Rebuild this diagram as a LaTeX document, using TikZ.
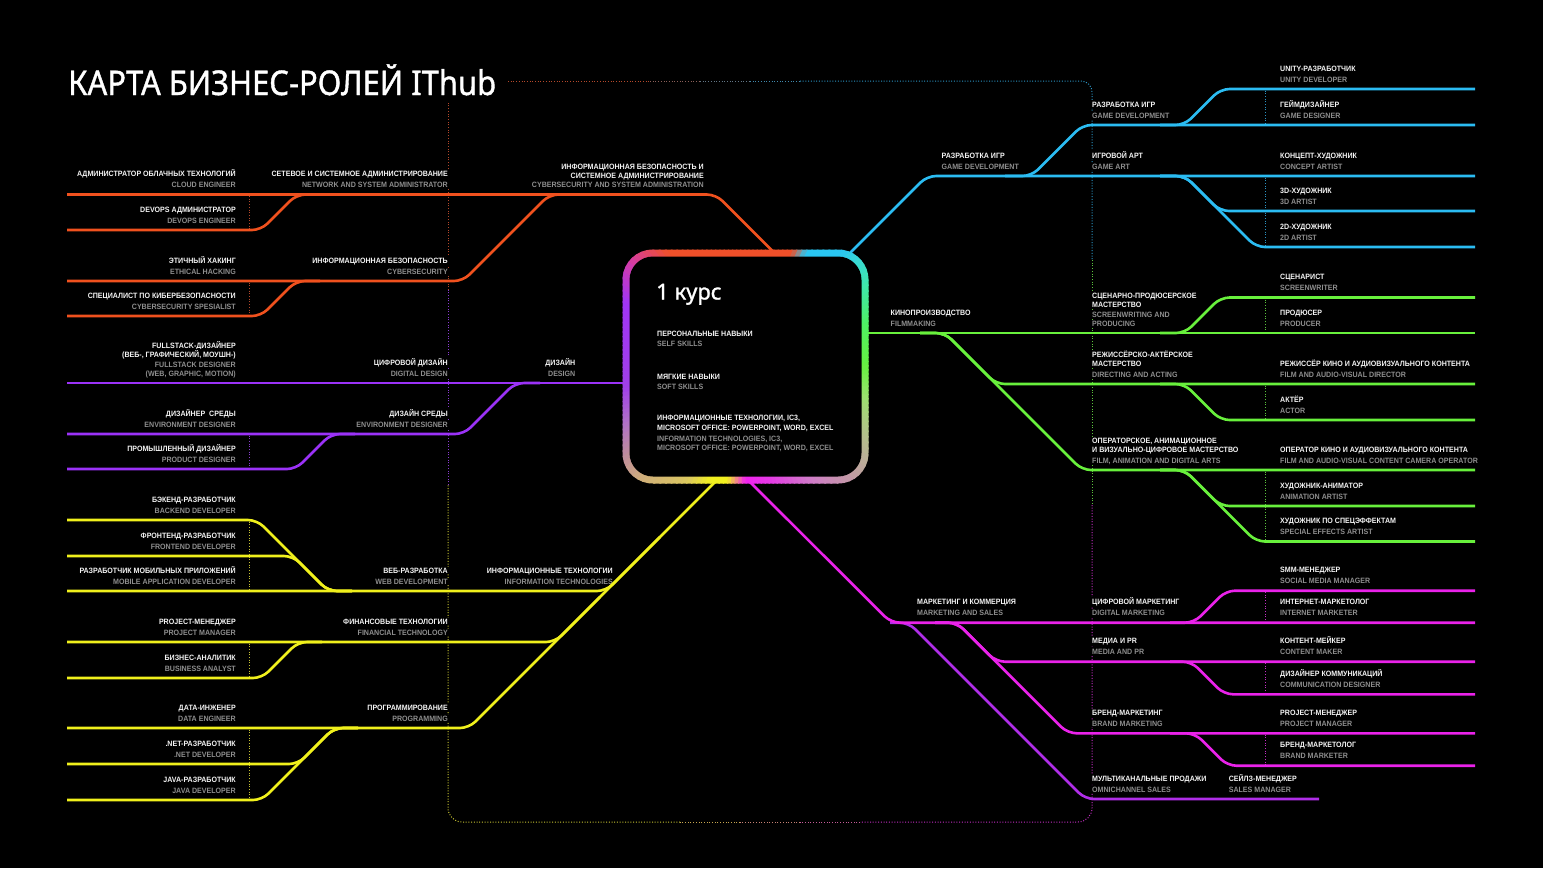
\documentclass[tikz,border=0pt]{standalone}
\usepackage{fontspec}
\setmainfont{Noto Sans}
\newfontfamily\labfont{Liberation Sans}[FakeStretch=0.92]
\newfontfamily\headfont{Noto Sans}[FakeBold=1.2]
\definecolor{cOr}{HTML}{F0511E}
\definecolor{cPu}{HTML}{9B32F7}
\definecolor{cYe}{HTML}{F0F01C}
\definecolor{cBl}{HTML}{2BBCF2}
\definecolor{cGr}{HTML}{68F03C}
\definecolor{cMg}{HTML}{EA22EA}
\definecolor{cVi}{HTML}{B02EE8}
\definecolor{cGrey}{HTML}{8E8E8E}
\definecolor{cWh}{HTML}{F4F4F4}
\definecolor{cDOr}{HTML}{B5482A}
\definecolor{cDBl}{HTML}{2B94C4}
\definecolor{cDGr}{HTML}{5CC43C}
\definecolor{cDMg}{HTML}{C42EC4}
\definecolor{cDYe}{HTML}{C8C432}
\definecolor{cDPu}{HTML}{8A3CD2}
\definecolor{w0}{HTML}{66F040}
\definecolor{w1}{HTML}{4EF064}
\definecolor{w2}{HTML}{3EE6B0}
\definecolor{w3}{HTML}{38D8D8}
\definecolor{w4}{HTML}{2AC6F2}
\definecolor{w5}{HTML}{2AC6F2}
\definecolor{w6}{HTML}{F0502A}
\definecolor{w7}{HTML}{F0502A}
\definecolor{w8}{HTML}{D43CA8}
\definecolor{w9}{HTML}{A035F5}
\definecolor{w10}{HTML}{A040E8}
\definecolor{w11}{HTML}{B070C8}
\definecolor{w12}{HTML}{C09098}
\definecolor{w13}{HTML}{D0B078}
\definecolor{w14}{HTML}{DCC860}
\definecolor{w15}{HTML}{F2F020}
\definecolor{w16}{HTML}{F2F020}
\definecolor{w17}{HTML}{F222F0}
\definecolor{w18}{HTML}{E43CE4}
\definecolor{w19}{HTML}{D07CC8}
\definecolor{w20}{HTML}{C0A0A0}
\definecolor{w21}{HTML}{B4C08C}
\definecolor{w22}{HTML}{9CE070}
\tikzset{
  every node/.style={inner xsep=2pt, inner ysep=1pt},
  lbt/.style={font=\labfont\bfseries\fontsize{7.7}{9}\selectfont, text=cWh},
  lgt/.style={font=\labfont\bfseries\fontsize{7.7}{9}\selectfont, text=cGrey},
  lb/.style={lbt, fill=black},
  lg/.style={lgt, fill=black},
  br/.style={line width=2.6pt, rounded corners=9pt},
  dotl/.style={line width=1pt, dash pattern=on 1pt off 1.7pt},
}
\newcounter{labno}
\newcommand\mylabR[4]{\stepcounter{labno}%
 \node[lb,anchor=base east] (lb\arabic{labno}) at ({#1+2},{#2-18}) {#3};%
 \node[lg,anchor=base east] (lg\arabic{labno}) at ({#1+2},{#2-7}) {#4};}
\newcommand\mylabL[4]{\stepcounter{labno}%
 \node[lb,anchor=base west] (lb\arabic{labno}) at ({#1-2},{#2-18}) {#3};%
 \node[lg,anchor=base west] (lg\arabic{labno}) at ({#1-2},{#2-7}) {#4};}
\begin{document}
\begin{tikzpicture}[x=1pt,y=-1pt]
\useasboundingbox (0,0) rectangle (1543,868);
\fill[black] (0,0) rectangle (1543,868);

% title
\node[anchor=base west, text=white, font=\headfont\fontsize{34}{34}\selectfont] (title) at (66,95) {\scalebox{0.91}[1]{КАРТА БИЗНЕС-РОЛЕЙ IThub}};

% dotted frame
\draw[dotl,cDOr] (508,81) -- (650,81);
\draw[dotl,cDOr!70!cDBl] (650,81) -- (700,81);
\draw[dotl,cDOr!40!cDBl] (700,81) -- (750,81);
\draw[dotl,cDOr!15!cDBl] (750,81) -- (800,81);
\draw[dotl,cDBl,rounded corners=11pt] (800,81) -- (1092,81) -- (1092,260);
\draw[dotl,cDGr] (1092,260) -- (1092,505);
\draw[dotl,cDMg,rounded corners=14pt] (1092,505) -- (1092,822) -- (860,822);
\draw[dotl,cDMg!70!cDYe] (860,822) -- (800,822);
\draw[dotl,cDMg!45!cDYe] (800,822) -- (740,822);
\draw[dotl,cDMg!20!cDYe] (740,822) -- (680,822);
\draw[dotl,cDYe,rounded corners=14pt] (680,822) -- (448,822) -- (448,485);
\draw[dotl,cDPu] (448,485) -- (448,290);
\draw[dotl,cDOr] (448,290) -- (448,103);

% small dotted separators
\draw[dotl,cDOr] (249.5,196) -- (249.5,228.5);
\draw[dotl,cDOr] (249.5,282.5) -- (249.5,314.5);
\draw[dotl,cDPu] (249.5,435.5) -- (249.5,467.5);
\draw[dotl,cDYe] (249.5,521.5) -- (249.5,589.5);
\draw[dotl,cDYe] (249.5,643.5) -- (249.5,676.5);
\draw[dotl,cDYe] (249.5,729.5) -- (249.5,798.5);
\draw[dotl,cDBl] (1265.5,90.5) -- (1265.5,123.5);
\draw[dotl,cDBl] (1265.5,177.5) -- (1265.5,245.5);
\draw[dotl,cDGr] (1265.5,299.5) -- (1265.5,331.5);
\draw[dotl,cDGr] (1265.5,385.5) -- (1265.5,418.5);
\draw[dotl,cDGr] (1265.5,471.5) -- (1265.5,540);
\draw[dotl,cDMg] (1265.5,592) -- (1265.5,621);
\draw[dotl,cDMg] (1265.5,663) -- (1265.5,693);
\draw[dotl,cDMg] (1265.5,734.5) -- (1265.5,764.5);

% ---------- labels left
\mylabR{236}{194.5}{АДМИНИСТРАТОР ОБЛАЧНЫХ ТЕХНОЛОГИЙ}{CLOUD ENGINEER}
\mylabR{236}{230}{DEVOPS АДМИНИСТРАТОР}{DEVOPS ENGINEER}
\mylabR{236}{281}{ЭТИЧНЫЙ ХАКИНГ}{ETHICAL HACKING}
\mylabR{236}{316}{СПЕЦИАЛИСТ ПО КИБЕРБЕЗОПАСНОСТИ}{CYBERSECURITY SPESIALIST}
\mylabR{448}{194.5}{СЕТЕВОЕ И СИСТЕМНОЕ АДМИНИСТРИРОВАНИЕ}{NETWORK AND SYSTEM ADMINISTRATOR}
\mylabR{448}{281}{ИНФОРМАЦИОННАЯ БЕЗОПАСНОСТЬ}{CYBERSECURITY}
\node[lb,anchor=base east] (om1) at (706,169) {ИНФОРМАЦИОННАЯ БЕЗОПАСНОСТЬ И};
\node[lb,anchor=base east] (om2) at (706,178.5) {СИСТЕМНОЕ АДМИНИСТРИРОВАНИЕ};
\node[lg,anchor=base east] (om3) at (706,187.5) {CYBERSECURITY AND SYSTEM ADMINISTRATION};
\node[lb,anchor=base east] (fs1) at (238,348) {FULLSTACK-ДИЗАЙНЕР};
\node[lb,anchor=base east] (fs2) at (238,357) {(ВЕБ-, ГРАФИЧЕСКИЙ, МОУШН-)};
\node[lg,anchor=base east] (fs3) at (238,367) {FULLSTACK DESIGNER};
\node[lg,anchor=base east] (fs4) at (238,376) {(WEB, GRAPHIC, MOTION)};
\mylabR{448}{383}{ЦИФРОВОЙ ДИЗАЙН}{DIGITAL DESIGN}
\mylabR{575.5}{383}{ДИЗАЙН}{DESIGN}
\mylabR{236}{434}{ДИЗАЙНЕР\ \ СРЕДЫ}{ENVIRONMENT DESIGNER}
\mylabR{448}{434}{ДИЗАЙН СРЕДЫ}{ENVIRONMENT DESIGNER}
\mylabR{236}{469}{ПРОМЫШЛЕННЫЙ ДИЗАЙНЕР}{PRODUCT DESIGNER}
\mylabR{236}{520}{БЭКЕНД-РАЗРАБОТЧИК}{BACKEND DEVELOPER}
\mylabR{236}{556}{ФРОНТЕНД-РАЗРАБОТЧИК}{FRONTEND DEVELOPER}
\mylabR{236}{591}{РАЗРАБОТЧИК МОБИЛЬНЫХ ПРИЛОЖЕНИЙ}{MOBILE APPLICATION DEVELOPER}
\mylabR{448}{591}{ВЕБ-РАЗРАБОТКА}{WEB DEVELOPMENT}
\mylabR{613}{591}{ИНФОРМАЦИОННЫЕ ТЕХНОЛОГИИ}{INFORMATION TECHNOLOGIES}
\mylabR{236}{642}{PROJECT-МЕНЕДЖЕР}{PROJECT MANAGER}
\mylabR{448}{642}{ФИНАНСОВЫЕ ТЕХНОЛОГИИ}{FINANCIAL TECHNOLOGY}
\mylabR{236}{678}{БИЗНЕС-АНАЛИТИК}{BUSINESS ANALYST}
\mylabR{236}{728}{ДАТА-ИНЖЕНЕР}{DATA ENGINEER}
\mylabR{448}{728}{ПРОГРАММИРОВАНИЕ}{PROGRAMMING}
\mylabR{236}{764}{.NET-РАЗРАБОТЧИК}{.NET DEVELOPER}
\mylabR{236}{800}{JAVA-РАЗРАБОТЧИК}{JAVA DEVELOPER}

% ---------- labels right
\mylabL{941.5}{176}{РАЗРАБОТКА ИГР}{GAME DEVELOPMENT}
\mylabL{1092}{125}{РАЗРАБОТКА ИГР}{GAME DEVELOPMENT}
\mylabL{1092}{176}{ИГРОВОЙ АРТ}{GAME ART}
\mylabL{1280}{89}{UNITY-РАЗРАБОТЧИК}{UNITY DEVELOPER}
\mylabL{1280}{125}{ГЕЙМДИЗАЙНЕР}{GAME DESIGNER}
\mylabL{1280}{176}{КОНЦЕПТ-ХУДОЖНИК}{CONCEPT ARTIST}
\mylabL{1280}{211}{3D-ХУДОЖНИК}{3D ARTIST}
\mylabL{1280}{247}{2D-ХУДОЖНИК}{2D ARTIST}
\mylabL{890.5}{333}{КИНОПРОИЗВОДСТВО}{FILMMAKING}
\node[lb,anchor=base west] (sp1) at (1090,298.5) {СЦЕНАРНО-ПРОДЮСЕРСКОЕ};
\node[lb,anchor=base west] (sp2) at (1090,307.5) {МАСТЕРСТВО};
\node[lg,anchor=base west] (sp3) at (1090,317.5) {SCREENWRITING AND};
\node[lg,anchor=base west] (sp4) at (1090,326) {PRODUCING};
\node[lb,anchor=base west] (da1) at (1090,357.5) {РЕЖИССЁРСКО-АКТЁРСКОЕ};
\node[lb,anchor=base west] (da2) at (1090,366) {МАСТЕРСТВО};
\node[lg,anchor=base west] (da3) at (1090,377) {DIRECTING AND ACTING};
\node[lb,anchor=base west] (op1) at (1090,443.5) {ОПЕРАТОРСКОЕ, АНИМАЦИОННОЕ};
\node[lb,anchor=base west] (op2) at (1090,452) {И ВИЗУАЛЬНО-ЦИФРОВОЕ МАСТЕРСТВО};
\node[lg,anchor=base west] (op3) at (1090,463) {FILM, ANIMATION AND DIGITAL ARTS};
\mylabL{1280}{297.5}{СЦЕНАРИСТ}{SCREENWRITER}
\mylabL{1280}{333}{ПРОДЮСЕР}{PRODUCER}
\mylabL{1280}{384}{РЕЖИССЁР КИНО И АУДИОВИЗУАЛЬНОГО КОНТЕНТА}{FILM AND AUDIO-VISUAL DIRECTOR}
\mylabL{1280}{420}{АКТЁР}{ACTOR}
\mylabL{1280}{470}{ОПЕРАТОР КИНО И АУДИОВИЗУАЛЬНОГО КОНТЕНТА}{FILM AND AUDIO-VISUAL CONTENT CAMERA OPERATOR}
\mylabL{1280}{506}{ХУДОЖНИК-АНИМАТОР}{ANIMATION ARTIST}
\mylabL{1280}{541.5}{ХУДОЖНИК ПО СПЕЦЭФФЕКТАМ}{SPECIAL EFFECTS ARTIST}
\mylabL{917}{622.7}{МАРКЕТИНГ И КОММЕРЦИЯ}{MARKETING AND SALES}
\mylabL{1092}{622.7}{ЦИФРОВОЙ МАРКЕТИНГ}{DIGITAL MARKETING}
\mylabL{1092}{661.7}{МЕДИА И PR}{MEDIA AND PR}
\mylabL{1092}{733.3}{БРЕНД-МАРКЕТИНГ}{BRAND MARKETING}
\mylabL{1092}{799}{МУЛЬТИКАНАЛЬНЫЕ ПРОДАЖИ}{OMNICHANNEL SALES}
\mylabL{1228.6}{799}{СЕЙЛЗ-МЕНЕДЖЕР}{SALES MANAGER}
\mylabL{1280}{590.7}{SMM-МЕНЕДЖЕР}{SOCIAL MEDIA MANAGER}
\mylabL{1280}{622.7}{ИНТЕРНЕТ-МАРКЕТОЛОГ}{INTERNET MARKETER}
\mylabL{1280}{661.7}{КОНТЕНТ-МЕЙКЕР}{CONTENT MAKER}
\mylabL{1280}{694.3}{ДИЗАЙНЕР КОММУНИКАЦИЙ}{COMMUNICATION DESIGNER}
\mylabL{1280}{733.3}{PROJECT-МЕНЕДЖЕР}{PROJECT MANAGER}
\mylabL{1280}{765.7}{БРЕНД-МАРКЕТОЛОГ}{BRAND MARKETER}

% ---------- orange branch
\draw[br,cOr] (67,194.5) -- (716,194.5) -- (778,256.5);
\draw[br,cOr] (67,281) -- (463,281) -- (549.5,194.5) -- (580,194.5);
\draw[br,cOr] (67,230) -- (261,230) -- (296.5,194.5) -- (320,194.5);
\draw[br,cOr] (67,316) -- (261,316) -- (296,281) -- (320,281);
% ---------- purple branch
\draw[br,cPu] (67,383) -- (632,383);
\draw[br,cPu] (67,434) -- (464,434) -- (515,383) -- (540,383);
\draw[br,cPu] (67,469) -- (296,469) -- (331,434) -- (355,434);
% ---------- yellow branch
\draw[br,cYe] (67,728) -- (469,728) -- (721,476);
\draw[br,cYe] (67,591) -- (606,591) -- (660,537);
\draw[br,cYe] (67,642) -- (555,642) -- (600,597);
\draw[br,cYe] (67,520) -- (257,520) -- (328,591) -- (352,591);
\draw[br,cYe] (67,556) -- (293,556) -- (328,591) -- (352,591);
\draw[br,cYe] (67,678) -- (262,678) -- (298,642) -- (322,642);
\draw[br,cYe] (67,800) -- (262,800) -- (334,728) -- (358,728);
\draw[br,cYe] (67,764) -- (298,764) -- (334,728) -- (358,728);
% ---------- blue branch
\draw[br,cBl] (844,259) -- (927,176) -- (1475,176);
\draw[br,cBl] (1005,176) -- (1031.5,176) -- (1082.5,125) -- (1475,125);
\draw[br,cBl] (1160,125) -- (1184.5,125) -- (1220.5,89) -- (1475,89);
\draw[br,cBl] (1160,176) -- (1185,176) -- (1256,247) -- (1475,247);
\draw[br,cBl] (1160,176) -- (1185,176) -- (1220,211) -- (1475,211);
% ---------- green branch
\draw[br,cGr] (861,333) -- (1475,333);
\draw[br,cGr] (1160,333) -- (1185,333) -- (1220.5,297.5) -- (1475,297.5);
\draw[br,cGr] (920,333) -- (945,333) -- (1082,470) -- (1475,470);
\draw[br,cGr] (920,333) -- (945,333) -- (996,384) -- (1475,384);
\draw[br,cGr] (1160,384) -- (1184.5,384) -- (1220.5,420) -- (1475,420);
\draw[br,cGr] (1160,470) -- (1184.5,470) -- (1220.5,506) -- (1475,506);
\draw[br,cGr] (1160,470) -- (1184.5,470) -- (1256,541.5) -- (1475,541.5);
% ---------- magenta branch
\draw[br,cVi] (890,622.7) -- (908.7,622.7) -- (1085,799) -- (1319,799);
\draw[br,cMg] (744,476) -- (891,622.7) -- (1475,622.7);
\draw[br,cMg] (1170,622.7) -- (1194,622.7) -- (1226,590.7) -- (1475,590.7);
\draw[br,cMg] (935,622.7) -- (957,622.7) -- (996,661.7) -- (1475,661.7);
\draw[br,cMg] (935,622.7) -- (957,622.7) -- (1067.6,733.3) -- (1475,733.3);
\draw[br,cMg] (1170,661.7) -- (1191.5,661.7) -- (1224,694.3) -- (1475,694.3);
\draw[br,cMg] (1170,733.3) -- (1195,733.3) -- (1227.4,765.7) -- (1475,765.7);

% ---------- central box with gradient ring
\begin{scope}
\clip[rounded corners=30.5pt] (622.5,249.5) rectangle (868.5,483.5);
\foreach \sA/\sB/\cA/\cB in {0/20/w0/w1, 20/35/w1/w2, 35/44/w2/w3, 44/50/w3/w4, 50/62/w4/w5, 62/68/w5/w6, 68/124/w6/w7, 124/138/w7/w8, 138/152/w8/w9, 152/190/w9/w10, 190/205/w10/w11, 205/218/w11/w12, 218/228/w12/w13, 228/243/w13/w14, 243/253/w14/w15, 253/261/w15/w16, 261/270/w16/w17, 270/283/w17/w18, 283/300/w18/w19, 300/316/w19/w20, 316/330/w20/w21, 330/345/w21/w22, 345/360/w22/w0}{
  \pgfmathtruncatemacro\nseg{max(1,round((\sB-\sA)/2))}
  \foreach \k in {1,...,\nseg}{
    \pgfmathsetmacro\angA{\sA+(\k-1)*(\sB-\sA)/\nseg}
    \pgfmathsetmacro\angB{\sA+\k*(\sB-\sA)/\nseg+0.6}
    \pgfmathtruncatemacro\pc{round(100*(\k-0.5)/\nseg)}
    \colorlet{wc}{\cB!\pc!\cA}
    \fill[wc] (745.5,366.5) -- ({745.5+200*cos(\angA)},{366.5-200*sin(\angA)}) -- ({745.5+200*cos(\angB)},{366.5-200*sin(\angB)}) -- cycle;
  }
}
\end{scope}
\node[fill=black, rounded corners=23.5pt, minimum width=232pt, minimum height=220pt, inner sep=0pt] (core) at (745.5,366.5) {};

\node[anchor=base west, text=white, font=\headfont\fontsize{22}{22}\selectfont] (course) at (654,299.5) {1 курс};
\node[lbt,anchor=base west] (k1) at (655,336) {ПЕРСОНАЛЬНЫЕ НАВЫКИ};
\node[lgt,anchor=base west] (k2) at (655,346.5) {SELF SKILLS};
\node[lbt,anchor=base west] (k3) at (655,379) {МЯГКИЕ НАВЫКИ};
\node[lgt,anchor=base west] (k4) at (655,389.5) {SOFT SKILLS};
\node[lbt,anchor=base west] (k5) at (655,420.5) {ИНФОРМАЦИОННЫЕ ТЕХНОЛОГИИ, IC3,};
\node[lbt,anchor=base west] (k6) at (655,430) {MICROSOFT OFFICE: POWERPOINT, WORD, EXCEL};
\node[lgt,anchor=base west] (k7) at (655,441) {INFORMATION TECHNOLOGIES, IC3,};
\node[lgt,anchor=base west] (k8) at (655,450) {MICROSOFT OFFICE: POWERPOINT, WORD, EXCEL};
\end{tikzpicture}
\end{document}
